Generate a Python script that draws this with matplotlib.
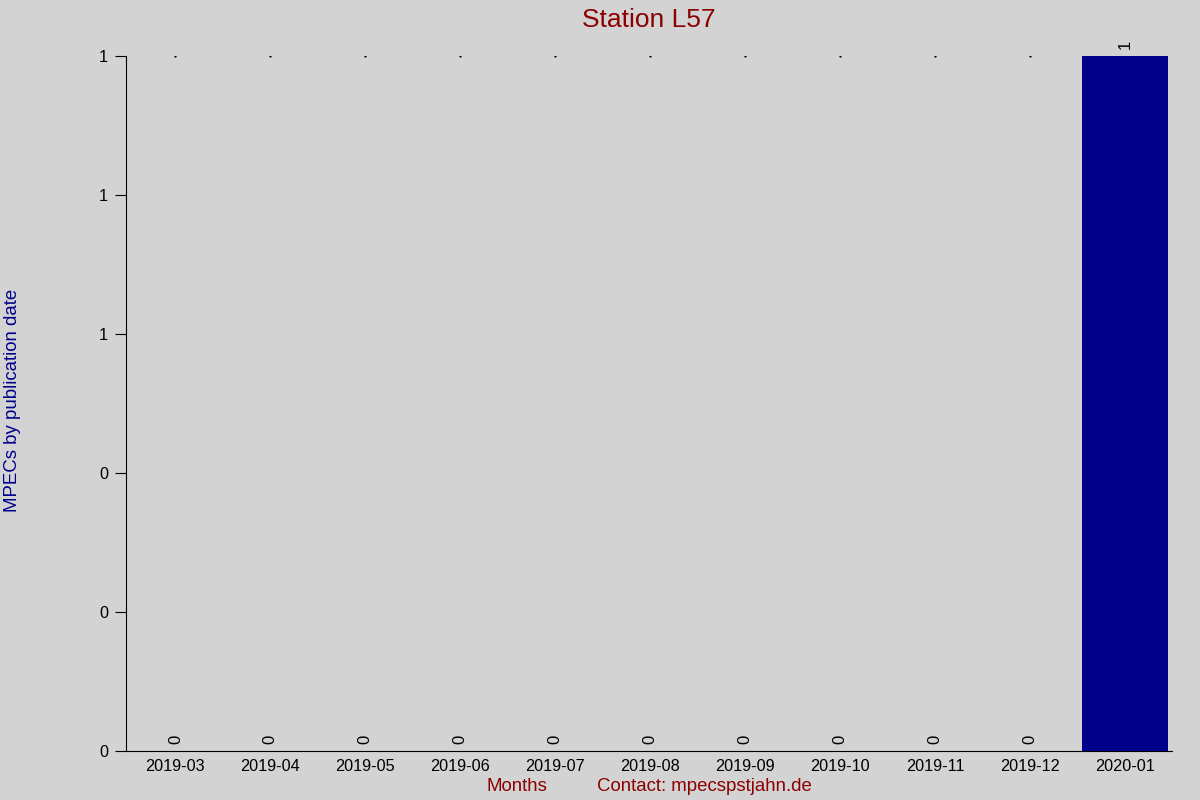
import numpy as np
import matplotlib.pyplot as plt

months = ['2019-03', '2019-04', '2019-05', '2019-06', '2019-07', '2019-08',
          '2019-09', '2019-10', '2019-11', '2019-12', '2020-01']
counts = [0, 0, 0, 0, 0, 0, 0, 0, 0, 0, 1]
station = 'L57'

plt.rcParams['font.family'] = ['Liberation Sans', 'DejaVu Sans']

fig = plt.figure(figsize=(12, 8), dpi=100, facecolor='lightgray')
ax = fig.add_axes([0.105, 0.06125, 0.872, 0.86875], facecolor='lightgray')

x = np.arange(len(months))
ax.bar(x, counts, width=0.9, color='darkblue')

ymax = max(counts)
for i, c in enumerate(counts):
    ax.text(i, c + 0.01 * ymax, str(c), rotation=90, ha='center', va='bottom', fontsize=12)
    if c == 0:
        ax.plot(i, ymax, marker='s', markersize=0.6, color='black', linestyle='none')

ax.set_xlim(-0.52, len(months) - 0.5)
ax.set_ylim(0, ymax)
ax.set_xticks(x)
ax.set_xticklabels(months, fontsize=11.7)
ax.tick_params(axis='x', length=0, pad=6)
yt = np.linspace(0, ymax, 6)
ax.set_yticks(yt)
ax.set_yticklabels(['%.0f' % v for v in yt], fontsize=11.7)
ax.tick_params(axis='y', length=8, direction='out', pad=5)
ax.spines['top'].set_visible(False)
ax.spines['right'].set_visible(False)

ax.set_title('Station ' + station, color='darkred', fontsize=19, pad=21)
fig.text(0.0105, 0.5, 'MPECs by publication date', rotation=90, color='darkblue',
         fontsize=13.4, ha='center', va='center')
fig.text(0.431, 0.017, 'Months', color='darkred', fontsize=13.4, ha='center', va='center')
fig.text(0.587, 0.017, 'Contact: mpecspstjahn.de', color='darkred', fontsize=13.4,
         ha='center', va='center')

fig.savefig('out.png', dpi=100, facecolor='lightgray')
